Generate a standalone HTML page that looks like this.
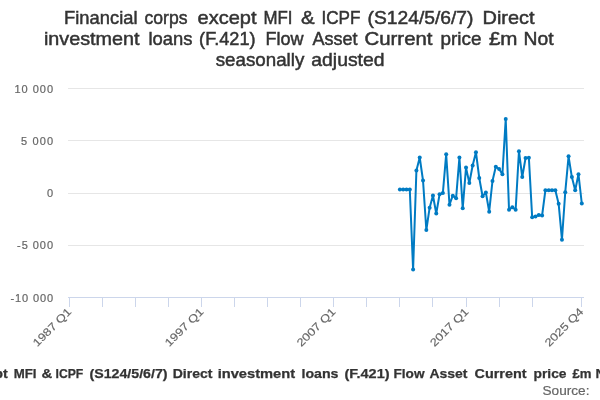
<!DOCTYPE html>
<html><head><meta charset="utf-8">
<style>
html,body{margin:0;padding:0;background:#fff;width:600px;height:400px;overflow:hidden}
svg{display:block;will-change:transform}
text{font-family:"Liberation Sans",sans-serif}
</style></head>
<body>
<svg width="600" height="400" viewBox="0 0 600 400">
<rect x="0" y="0" width="600" height="400" fill="#ffffff"/>
<!-- gridlines -->
<g fill="#e6e6e6">
<rect x="68" y="88" width="516" height="1"/>
<rect x="68" y="140" width="516" height="1"/>
<rect x="68" y="193" width="516" height="1"/>
<rect x="68" y="245" width="516" height="1"/>
</g>
<!-- x axis -->
<g fill="#ccd6eb">
<rect x="68" y="297" width="516" height="1"/>
<rect x="69" y="297" width="1" height="10"/>
<rect x="102" y="297" width="1" height="10"/>
<rect x="135" y="297" width="1" height="10"/>
<rect x="168" y="297" width="1" height="10"/>
<rect x="201" y="297" width="1" height="10"/>
<rect x="234" y="297" width="1" height="10"/>
<rect x="267" y="297" width="1" height="10"/>
<rect x="300" y="297" width="1" height="10"/>
<rect x="333" y="297" width="1" height="10"/>
<rect x="366" y="297" width="1" height="10"/>
<rect x="399" y="297" width="1" height="10"/>
<rect x="432" y="297" width="1" height="10"/>
<rect x="466" y="297" width="1" height="10"/>
<rect x="499" y="297" width="1" height="10"/>
<rect x="532" y="297" width="1" height="10"/>
<rect x="581" y="297" width="1" height="10"/>
</g>
<!-- title -->
<g fill="#333333" font-size="19.0" stroke="#333333" stroke-width="0.5">
<text x="64.10" y="24" textLength="73.40" lengthAdjust="spacingAndGlyphs">Financial</text>
<text x="144.50" y="24" textLength="43.00" lengthAdjust="spacingAndGlyphs">corps</text>
<text x="197.50" y="24" textLength="59.00" lengthAdjust="spacingAndGlyphs">except</text>
<text x="263.50" y="24" textLength="29.00" lengthAdjust="spacingAndGlyphs">MFI</text>
<text x="300.90" y="24" textLength="13.60" lengthAdjust="spacingAndGlyphs">&amp;</text>
<text x="321.50" y="24" textLength="39.00" lengthAdjust="spacingAndGlyphs">ICPF</text>
<text x="367.50" y="24" textLength="106.00" lengthAdjust="spacingAndGlyphs">(S124/5/6/7)</text>
<text x="482.50" y="24" textLength="52.00" lengthAdjust="spacingAndGlyphs">Direct</text>
<text x="43.90" y="45" textLength="95.60" lengthAdjust="spacingAndGlyphs">investment</text>
<text x="148.50" y="45" textLength="44.00" lengthAdjust="spacingAndGlyphs">loans</text>
<text x="199.10" y="45" textLength="56.40" lengthAdjust="spacingAndGlyphs">(F.421)</text>
<text x="265.50" y="45" textLength="38.00" lengthAdjust="spacingAndGlyphs">Flow</text>
<text x="312.50" y="45" textLength="45.00" lengthAdjust="spacingAndGlyphs">Asset</text>
<text x="364.50" y="45" textLength="68.00" lengthAdjust="spacingAndGlyphs">Current</text>
<text x="440.50" y="45" textLength="41.00" lengthAdjust="spacingAndGlyphs">price</text>
<text x="488.90" y="45" textLength="28.60" lengthAdjust="spacingAndGlyphs">£m</text>
<text x="523.50" y="45" textLength="30.00" lengthAdjust="spacingAndGlyphs">Not</text>
<text x="215.70" y="66" textLength="88.60" lengthAdjust="spacingAndGlyphs">seasonally</text>
<text x="311.30" y="66" textLength="73.20" lengthAdjust="spacingAndGlyphs">adjusted</text>
</g>
<!-- y labels -->
<g fill="#666666" font-size="11" text-anchor="end" stroke="#666666" stroke-width="0.2">
<text x="53" y="93" textLength="38.5" lengthAdjust="spacing">10 000</text>
<text x="53" y="145" textLength="32" lengthAdjust="spacing">5 000</text>
<text x="53" y="197" textLength="7" lengthAdjust="spacing">0</text>
<text x="53" y="249" textLength="36" lengthAdjust="spacing">-5 000</text>
<text x="53" y="302" textLength="42.5" lengthAdjust="spacing">-10 000</text>
</g>
<!-- x labels -->
<g fill="#666666" font-size="11" text-anchor="end" stroke="#666666" stroke-width="0.15">
<text transform="translate(72.2,312.3) rotate(-45)" textLength="49.5" lengthAdjust="spacingAndGlyphs">1987 Q1</text>
<text transform="translate(204.3,312.3) rotate(-45)" textLength="49.5" lengthAdjust="spacingAndGlyphs">1997 Q1</text>
<text transform="translate(336.3,312.3) rotate(-45)" textLength="49.5" lengthAdjust="spacingAndGlyphs">2007 Q1</text>
<text transform="translate(469.4,312.3) rotate(-45)" textLength="49.5" lengthAdjust="spacingAndGlyphs">2017 Q1</text>
<text transform="translate(584.2,312.3) rotate(-45)" textLength="49.5" lengthAdjust="spacingAndGlyphs">2025 Q4</text>
</g>
<!-- legend -->
<g fill="#333333" font-size="12.5" font-weight="bold" stroke="#333333" stroke-width="0.25">
<text x="-37.50" y="378" textLength="45.20" lengthAdjust="spacingAndGlyphs">except</text>
<text x="13.70" y="378" textLength="22.80" lengthAdjust="spacingAndGlyphs">MFI</text>
<text x="41.50" y="378" textLength="10.80" lengthAdjust="spacingAndGlyphs">&amp;</text>
<text x="55.50" y="378" textLength="27.80" lengthAdjust="spacingAndGlyphs">ICPF</text>
<text x="89.50" y="378" textLength="78.00" lengthAdjust="spacingAndGlyphs">(S124/5/6/7)</text>
<text x="172.70" y="378" textLength="39.80" lengthAdjust="spacingAndGlyphs">Direct</text>
<text x="217.70" y="378" textLength="77.40" lengthAdjust="spacingAndGlyphs">investment</text>
<text x="301.50" y="378" textLength="37.00" lengthAdjust="spacingAndGlyphs">loans</text>
<text x="344.50" y="378" textLength="45.00" lengthAdjust="spacingAndGlyphs">(F.421)</text>
<text x="393.50" y="378" textLength="31.00" lengthAdjust="spacingAndGlyphs">Flow</text>
<text x="429.50" y="378" textLength="38.00" lengthAdjust="spacingAndGlyphs">Asset</text>
<text x="474.50" y="378" textLength="52.00" lengthAdjust="spacingAndGlyphs">Current</text>
<text x="533.50" y="378" textLength="33.00" lengthAdjust="spacingAndGlyphs">price</text>
<text x="572.50" y="378" textLength="19.00" lengthAdjust="spacingAndGlyphs">£m</text>
<text x="595.50" y="378" textLength="23.00" lengthAdjust="spacingAndGlyphs">Not</text>
</g>
<text x="542.5" y="395" fill="#666666" font-size="12.5" textLength="47" lengthAdjust="spacingAndGlyphs" stroke="#666666" stroke-width="0.2">Source:</text>
<!-- series -->
<g id="series">
<path d="M399.87 189.50 L403.18 189.50 L406.49 189.50 L409.79 189.50 L413.10 269.60 L416.41 170.50 L419.72 157.50 L423.02 180.50 L426.33 230.00 L429.64 207.70 L432.95 195.50 L436.25 213.50 L439.56 194.30 L442.87 192.90 L446.18 154.20 L449.49 204.70 L452.79 195.70 L456.10 198.20 L459.41 157.50 L462.72 208.30 L466.02 167.60 L469.33 183.00 L472.64 165.50 L475.95 152.20 L479.25 178.00 L482.56 196.20 L485.87 192.50 L489.18 211.70 L492.49 181.00 L495.79 166.70 L499.10 169.00 L502.41 174.20 L505.72 119.10 L509.02 209.80 L512.33 207.20 L515.64 209.80 L518.95 151.20 L522.25 177.00 L525.56 158.00 L528.87 157.80 L532.18 217.20 L535.49 216.40 L538.79 215.00 L542.10 215.50 L545.41 190.20 L548.72 190.20 L552.02 190.20 L555.33 190.20 L558.64 203.70 L561.95 239.70 L565.25 192.20 L568.56 156.30 L571.87 177.10 L575.18 190.30 L578.49 174.30 L581.79 203.50" fill="none" stroke="#007bc3" stroke-width="2" stroke-linejoin="round" stroke-linecap="round"/>
<g fill="#007bc3">
<circle cx="399.87" cy="189.50" r="2"/>
<circle cx="403.18" cy="189.50" r="2"/>
<circle cx="406.49" cy="189.50" r="2"/>
<circle cx="409.79" cy="189.50" r="2"/>
<circle cx="413.10" cy="269.60" r="2"/>
<circle cx="416.41" cy="170.50" r="2"/>
<circle cx="419.72" cy="157.50" r="2"/>
<circle cx="423.02" cy="180.50" r="2"/>
<circle cx="426.33" cy="230.00" r="2"/>
<circle cx="429.64" cy="207.70" r="2"/>
<circle cx="432.95" cy="195.50" r="2"/>
<circle cx="436.25" cy="213.50" r="2"/>
<circle cx="439.56" cy="194.30" r="2"/>
<circle cx="442.87" cy="192.90" r="2"/>
<circle cx="446.18" cy="154.20" r="2"/>
<circle cx="449.49" cy="204.70" r="2"/>
<circle cx="452.79" cy="195.70" r="2"/>
<circle cx="456.10" cy="198.20" r="2"/>
<circle cx="459.41" cy="157.50" r="2"/>
<circle cx="462.72" cy="208.30" r="2"/>
<circle cx="466.02" cy="167.60" r="2"/>
<circle cx="469.33" cy="183.00" r="2"/>
<circle cx="472.64" cy="165.50" r="2"/>
<circle cx="475.95" cy="152.20" r="2"/>
<circle cx="479.25" cy="178.00" r="2"/>
<circle cx="482.56" cy="196.20" r="2"/>
<circle cx="485.87" cy="192.50" r="2"/>
<circle cx="489.18" cy="211.70" r="2"/>
<circle cx="492.49" cy="181.00" r="2"/>
<circle cx="495.79" cy="166.70" r="2"/>
<circle cx="499.10" cy="169.00" r="2"/>
<circle cx="502.41" cy="174.20" r="2"/>
<circle cx="505.72" cy="119.10" r="2"/>
<circle cx="509.02" cy="209.80" r="2"/>
<circle cx="512.33" cy="207.20" r="2"/>
<circle cx="515.64" cy="209.80" r="2"/>
<circle cx="518.95" cy="151.20" r="2"/>
<circle cx="522.25" cy="177.00" r="2"/>
<circle cx="525.56" cy="158.00" r="2"/>
<circle cx="528.87" cy="157.80" r="2"/>
<circle cx="532.18" cy="217.20" r="2"/>
<circle cx="535.49" cy="216.40" r="2"/>
<circle cx="538.79" cy="215.00" r="2"/>
<circle cx="542.10" cy="215.50" r="2"/>
<circle cx="545.41" cy="190.20" r="2"/>
<circle cx="548.72" cy="190.20" r="2"/>
<circle cx="552.02" cy="190.20" r="2"/>
<circle cx="555.33" cy="190.20" r="2"/>
<circle cx="558.64" cy="203.70" r="2"/>
<circle cx="561.95" cy="239.70" r="2"/>
<circle cx="565.25" cy="192.20" r="2"/>
<circle cx="568.56" cy="156.30" r="2"/>
<circle cx="571.87" cy="177.10" r="2"/>
<circle cx="575.18" cy="190.30" r="2"/>
<circle cx="578.49" cy="174.30" r="2"/>
<circle cx="581.79" cy="203.50" r="2"/>
</g>
</g>
</svg>
</body></html>
